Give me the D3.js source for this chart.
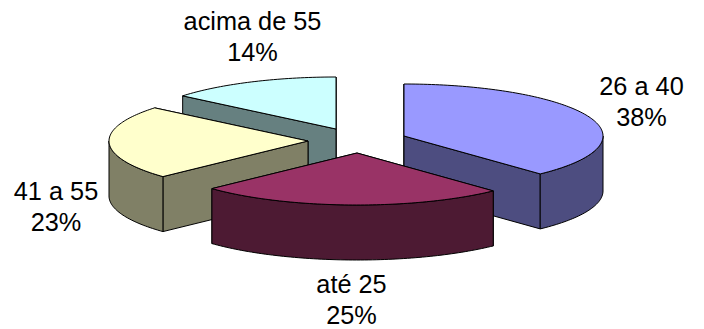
<!DOCTYPE html>
<html>
<head>
<meta charset="utf-8">
<script src="https://cdn.jsdelivr.net/npm/d3@7/dist/d3.min.js"></script>
<style>
  html, body { margin: 0; padding: 0; background: #fff; }
  svg { display: block; }
  text { font-family: "Liberation Sans", Arial, sans-serif; font-size: 25.3px; fill: #000; }
</style>
</head>
<body>
<svg id="chart" width="704" height="329"></svg>
<script>
// Age bands and their share of respondents, in percent
const categories = ["26 a 40", "até 25", "41 a 55", "acima de 55"];
const shares = [38, 25, 23, 14];
const topColors = ["#9999FF", "#993366", "#FFFFCC", "#CCFFFF"];
const sideColors = ["#4D4D80", "#4D1A33", "#808066", "#668080"];

// Where each exploded slice has its apex, and where its two-line label sits
const apexX = [404, 357, 308, 336];
const apexY = [136, 153, 141, 129];
const labelX = [641.5, 351.5, 56, 252.5];
const labelY = [95, 293, 200, 30];
const drawOrder = [3, 2, 0, 1];

const width = 704, height = 329;
const radiusX = 199, radiusY = 52, depth = 55;

const svg = d3.select("#chart");
const sx = d3.scaleLinear().domain([-1, 1]).range([-radiusX, radiusX]);
const sy = d3.scaleLinear().domain([-1, 1]).range([-radiusY, radiusY]);

// Clockwise from 12 o'clock, in the order the shares are listed
const arcs = d3.pie().sort(null).value(d => d)(shares);

const outline = d3.line().x(d => d[0]).y(d => d[1]);

// Point on the rim of slice i; a pie angle of 0 points up
function rim(i, angle, drop = 0) {
  return [
    apexX[i] + sx(Math.sin(angle)),
    apexY[i] - sy(Math.cos(angle)) + drop
  ];
}

function rimRun(i, from, to, drop = 0) {
  const steps = Math.max(2, Math.ceil(Math.abs(to - from) / 0.02));
  return d3.range(steps + 1).map(k => rim(i, from + (to - from) * k / steps, drop));
}

function polygon(g, points, fill) {
  g.append("path")
    .attr("d", outline(points) + "Z")
    .attr("fill", fill)
    .attr("stroke", "#000")
    .attr("stroke-width", 1)
    .attr("stroke-linejoin", "round");
}

drawOrder.forEach(i => {
  const a = arcs[i];
  const g = svg.append("g").attr("class", "slice");
  const apex = [apexX[i], apexY[i]];
  const apexLow = [apexX[i], apexY[i] + depth];

  // Cut faces from the apex to each end of the rim, the one further back first
  const cuts = [a.startAngle, a.endAngle].sort((p, q) => rim(i, p)[1] - rim(i, q)[1]);
  cuts.forEach(angle => {
    polygon(g, [apex, rim(i, angle), rim(i, angle, depth), apexLow], sideColors[i]);
  });

  // Outer wall, only where the rim faces the viewer (pie angles 90deg to 270deg)
  const from = Math.max(a.startAngle, Math.PI / 2);
  const to = Math.min(a.endAngle, 3 * Math.PI / 2);
  if (to > from) {
    polygon(g, rimRun(i, from, to).concat(rimRun(i, to, from, depth)), sideColors[i]);
  }

  // Top face
  polygon(g, [apex].concat(rimRun(i, a.startAngle, a.endAngle)), topColors[i]);
});

// Labels: category on the first line, share on the second
const labels = svg.append("g").attr("class", "labels")
  .selectAll("text").data(categories).join("text")
  .attr("text-anchor", "middle")
  .attr("x", (d, i) => labelX[i])
  .attr("y", (d, i) => labelY[i]);
labels.append("tspan").attr("x", (d, i) => labelX[i]).text(d => d);
labels.append("tspan").attr("x", (d, i) => labelX[i]).attr("dy", 30.5).text((d, i) => shares[i] + "%");
</script>
</body>
</html>
